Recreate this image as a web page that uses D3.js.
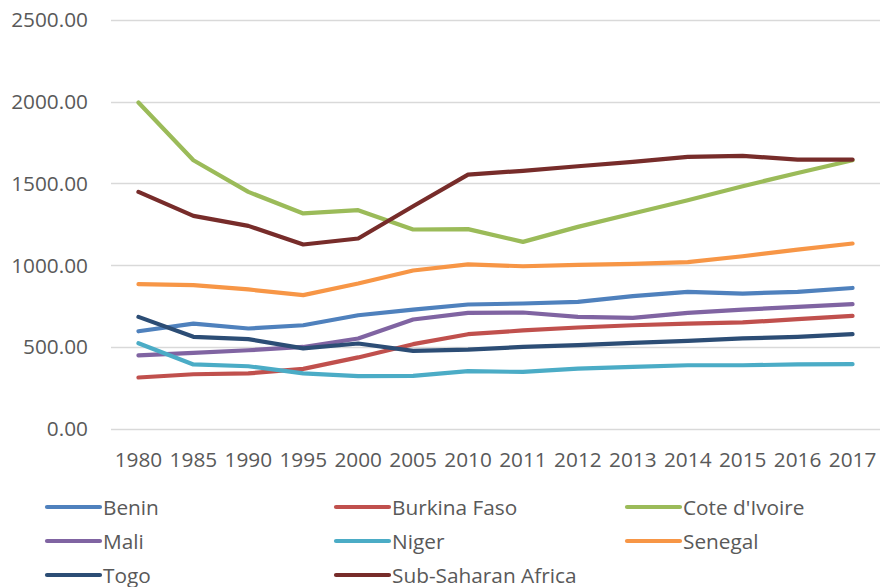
<!DOCTYPE html>
<html>
<head>
<meta charset="utf-8">
<script src="https://cdn.jsdelivr.net/npm/d3@7"></script>
<style>
  body { margin: 0; background: #fff; }
  svg { display: block; }
</style>
</head>
<body>
<div id="chart"></div>
<script>
const years = ["1980", "1985", "1990", "1995", "2000", "2005", "2010", "2011", "2012", "2013", "2014", "2015", "2016", "2017"];
const yTicks = [0, 500, 1000, 1500, 2000, 2500];

const benin = [595, 642, 612, 632, 693, 728, 759, 765, 775, 810, 836, 826, 836, 860];
const burkinaFaso = [312, 332, 337, 365, 435, 516, 577, 600, 618, 632, 642, 649, 669, 689];
const coteDIvoire = [1995, 1642, 1448, 1316, 1336, 1218, 1220, 1142, 1234, 1316, 1397, 1483, 1564, 1642];
const mali = [447, 463, 479, 499, 551, 667, 708, 710, 683, 677, 708, 728, 744, 761];
const niger = [522, 392, 381, 337, 320, 322, 351, 346, 367, 377, 387, 387, 392, 394];
const senegal = [883, 877, 851, 816, 887, 967, 1004, 993, 1001, 1007, 1018, 1054, 1095, 1132];
const togo = [683, 561, 547, 490, 520, 475, 483, 499, 510, 524, 536, 551, 561, 577];
const subSaharan = [1448, 1301, 1240, 1126, 1163, 1360, 1554, 1577, 1605, 1632, 1662, 1668, 1646, 1646];

const seriesNames = ["Benin", "Burkina Faso", "Cote d'Ivoire", "Mali", "Niger", "Senegal", "Togo", "Sub-Saharan Africa"];
const seriesValues = [benin, burkinaFaso, coteDIvoire, mali, niger, senegal, togo, subSaharan];
const colors = ["#4F81BD", "#C0504D", "#9BBB59", "#8064A2", "#4BACC6", "#F79646", "#2C4D75", "#772C2A"];

const width = 881, height = 587;
const font = "'Open Sans', 'Liberation Sans', sans-serif";
const textColor = "#595959";
const fontSize = "20.8px";

const x = d3.scaleBand().domain(years).range([111, 880]);
const y = d3.scaleLinear().domain([0, 2500]).range([428.5, 20]);
const cx = d => x(d) + x.bandwidth() / 2;

const svg = d3.select("#chart").append("svg")
    .attr("width", width)
    .attr("height", height)
    .style("font-family", font);

// gridlines
svg.append("g")
  .selectAll("line")
  .data(yTicks)
  .join("line")
    .attr("x1", 111)
    .attr("x2", 880)
    .attr("y1", d => Math.round(y(d)) + 0.5)
    .attr("y2", d => Math.round(y(d)) + 0.5)
    .attr("stroke", "#d9d9d9")
    .attr("stroke-width", 1.3);

// y labels
svg.append("g")
  .selectAll("text")
  .data(yTicks)
  .join("text")
    .attr("x", 88)
    .attr("y", d => y(d))
    .attr("dy", "0.36em")
    .attr("text-anchor", "end")
    .attr("fill", textColor)
    .style("font-size", fontSize)
    .text(d => d3.format(".2f")(d));

// x labels
svg.append("g")
  .selectAll("text")
  .data(years)
  .join("text")
    .attr("x", d => cx(d))
    .attr("y", 460)
    .attr("dy", "0.36em")
    .attr("text-anchor", "middle")
    .attr("fill", textColor)
    .style("font-size", fontSize)
    .text(d => d);

const line = d3.line()
    .x((d, i) => cx(years[i]))
    .y(d => y(d));

svg.append("g")
    .attr("fill", "none")
    .attr("stroke-width", 4.2)
    .attr("stroke-linecap", "round")
    .attr("stroke-linejoin", "round")
  .selectAll("path")
  .data(seriesValues)
  .join("path")
    .attr("stroke", (d, i) => colors[i])
    .attr("d", line);

// legend
const legendCols = [47, 336, 627];
const legendRows = [507, 541, 575];
const legend = svg.append("g")
  .selectAll("g")
  .data(seriesNames)
  .join("g")
    .attr("transform", (d, i) => `translate(${legendCols[i % 3]},${legendRows[Math.floor(i / 3)]})`);

legend.append("line")
    .attr("x1", 0)
    .attr("x2", 53)
    .attr("stroke", (d, i) => colors[i])
    .attr("stroke-width", 4.2)
    .attr("stroke-linecap", "round");

legend.append("text")
    .attr("x", 56)
    .attr("dy", "0.36em")
    .attr("fill", textColor)
    .style("font-size", fontSize)
    .text(d => d);
</script>
</body>
</html>
